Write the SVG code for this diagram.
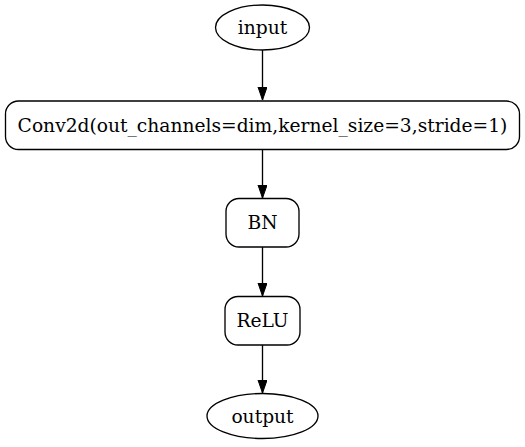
<svg xmlns="http://www.w3.org/2000/svg" width="525" height="447" viewBox="0 0 525 447">
<style>
.n{fill:#fff;stroke:#000;stroke-width:1.33}
.t{font-family:"DejaVu Serif",serif;font-size:18.67px;text-anchor:middle;fill:#000}
.e{stroke:#000;stroke-width:1.33;fill:none}
</style>
<defs>
<marker id="a" markerUnits="userSpaceOnUse" markerWidth="14" markerHeight="10" refX="13.3" refY="4.7" orient="auto">
<path d="M0,0 L13.3,4.7 L0,9.3 Z" fill="#000" stroke="#000" stroke-width="1"/>
</marker>
</defs>
<rect width="525" height="447" fill="#fff"/>
<g id="edges">
<line class="e" x1="262.5" y1="50" x2="262.5" y2="100" marker-end="url(#a)"/>
<line class="e" x1="262.5" y1="150" x2="262.5" y2="198" marker-end="url(#a)"/>
<line class="e" x1="262.5" y1="247" x2="262.5" y2="296" marker-end="url(#a)"/>
<line class="e" x1="262.5" y1="345" x2="262.5" y2="393" marker-end="url(#a)"/>
</g>
<g id="input">
<ellipse class="n" cx="262.5" cy="27.5" rx="47" ry="22.5"/>
<text class="t" x="262.5" y="34">input</text>
</g>
<g id="conv">
<rect class="n" x="5.5" y="101" width="514" height="48.5" rx="13" ry="13"/>
<text class="t" x="262.5" y="131.5">Conv2d(out_channels=dim,kernel_size=3,stride=1)</text>
</g>
<g id="bn">
<rect class="n" x="226" y="198.5" width="73" height="48.5" rx="13" ry="13"/>
<text class="t" x="262.5" y="229">BN</text>
</g>
<g id="relu">
<rect class="n" x="225" y="296.5" width="75" height="48.5" rx="13" ry="13"/>
<text class="t" x="262.5" y="327">ReLU</text>
</g>
<g id="output">
<ellipse class="n" cx="262.5" cy="416" rx="55.5" ry="22.5"/>
<text class="t" x="262.5" y="422.5">output</text>
</g>
</svg>
